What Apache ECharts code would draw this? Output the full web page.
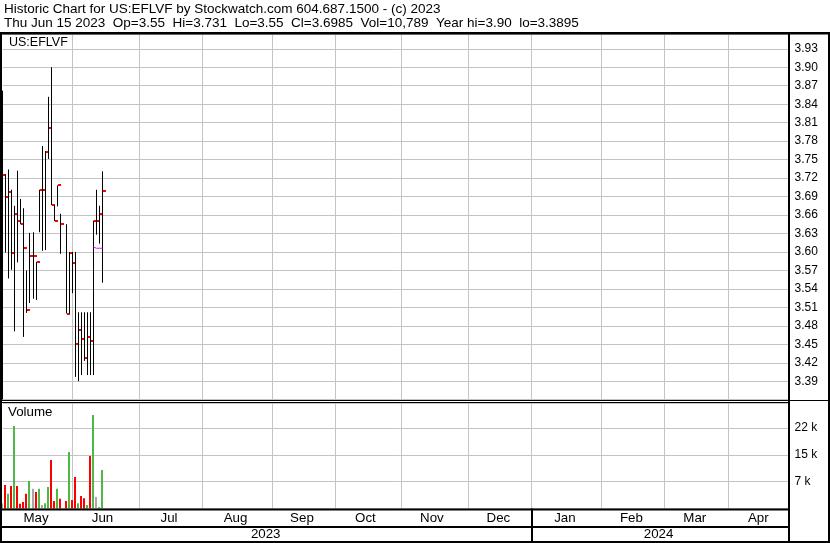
<!DOCTYPE html>
<html><head><meta charset="utf-8">
<script src="https://cdn.jsdelivr.net/npm/echarts@6/dist/echarts.min.js"></script>
<style>html,body{margin:0;padding:0;background:#fff}#c{width:830px;height:543px}</style>
</head><body><div id="c"></div>
<script>
// ---------------- data ----------------
const dates = ['2023-05-01','2023-05-02','2023-05-03','2023-05-04','2023-05-05',
  '2023-05-08','2023-05-09','2023-05-10','2023-05-11','2023-05-12',
  '2023-05-15','2023-05-16','2023-05-17','2023-05-18','2023-05-19',
  '2023-05-22','2023-05-23','2023-05-24','2023-05-25','2023-05-26',
  '2023-05-30','2023-05-31','2023-06-01','2023-06-02',
  '2023-06-05','2023-06-06','2023-06-07','2023-06-08','2023-06-09',
  '2023-06-12','2023-06-13','2023-06-14','2023-06-15'];
const highs = [3.862,3.726,3.734,3.701,3.675, 3.732,3.686,3.671,3.570,3.631,
  3.632,3.584,3.701,3.772,3.764, 3.852,3.900,3.676,3.708,3.662,
  3.645,3.600,3.600,3.600, 3.502,3.502,3.502,3.502,3.502, 3.651,3.701,3.675,3.731];
const lows = [3.360,3.599,3.557,3.571,3.471, 3.583,3.645,3.462,3.501,3.517,
  3.524,3.522,3.632,3.602,3.603, 3.751,3.676,3.650,3.674,3.597,
  3.500,3.500,3.533,3.397, 3.390,3.400,3.423,3.400,3.400, 3.400,3.628,3.6135,3.550];
const closes = [3.725,3.689,3.698,3.599,3.661, 3.650,3.645,3.606,3.505,3.594,
  3.594,3.583,3.700,3.700,3.763, 3.801,3.676,3.650,3.708,3.646,
  3.500,3.599,3.582,3.450, 3.474,3.459,3.427,3.462,3.455, 3.650,3.650,3.662,3.6985];
const volumes = [1500,6600,4100,6300,23100, 6300,1300,1800,4100,7700,
  5500,4600,5500,1000,1500, 6000,13600,2100,5500,2700,
  2100,15800,2400,8800, 1500,3500,2900,1000,14700, 26200,3200,400,10789];
const volDir = ['flat','down','up','down','up', 'down','down','down','down','up',
  'flat','down','up','flat','up', 'up','down','down','up','down',
  'down','up','down','down', 'up','down','down','up','down', 'up','flat','up','up'];
const maDates = ['2023-06-12','2023-06-13','2023-06-14','2023-06-15'];
const maValues = [3.608,3.606,3.606,3.606];
const monthNames = ['Jan','Feb','Mar','Apr','May','Jun','Jul','Aug','Sep','Oct','Nov','Dec'];
const axisStart = '2023-05-01', axisEnd = '2024-04-29';
const priceMin = 3.36, priceMax = 3.9532, priceStep = 0.03;
const volMin = 0, volMax = 29550, volStep = 7500;
const headerLine1 = 'Historic Chart for US:EFLVF by Stockwatch.com 604.687.1500 - (c) 2023';
const headerLine2 = 'Thu Jun 15 2023  Op=3.55  Hi=3.731  Lo=3.55  Cl=3.6985  Vol=10,789  Year hi=3.90  lo=3.3895';
const symbolLabel = 'US:EFLVF';
const volumeLabel = 'Volume';

// ---------------- axis categories (every weekday) ----------------
const cats = [];
for (let d = new Date(axisStart + 'T00:00:00Z'); d <= new Date(axisEnd + 'T00:00:00Z'); d.setUTCDate(d.getUTCDate() + 1)) {
  const w = d.getUTCDay();
  if (w !== 0 && w !== 6) cats.push(d.toISOString().slice(0, 10));
}
const monthGroups = {}, yearGroups = {};
cats.forEach((c, i) => {
  (monthGroups[c.slice(0, 7)] = monthGroups[c.slice(0, 7)] || []).push(i);
  (yearGroups[c.slice(0, 4)] = yearGroups[c.slice(0, 4)] || []).push(i);
});
const monthStart = new Set(), monthMid = new Set(), yearStart = new Set(), yearMid = new Set();
Object.values(monthGroups).forEach(g => { if (g[0] > 0) monthStart.add(g[0]); monthMid.add(Math.floor((g[0] + g[g.length - 1]) / 2)); });
Object.values(yearGroups).forEach(g => { if (g[0] > 0) yearStart.add(g[0]); yearMid.add(Math.floor((g[0] + g[g.length - 1]) / 2)); });

const FONT = "'Liberation Sans', Arial, sans-serif";
const GRIDC = '#c4c4c4';
const volColors = { up: '#4cb848', down: '#ff0000', flat: '#a8a8a8' };

const ohlcData = dates.map((d, k) => [d, highs[k], lows[k], closes[k]]);
const volData = dates.map((d, k) => [d, volumes[k]]);
const maData = maDates.map((d, k) => [d, maValues[k]]);

const chart = echarts.init(document.getElementById('c'), null, { renderer: 'canvas' });

const L = 2.8, R = 830 - 788.5;
const PT = 34.5, PB = 399.7, VT = 403, VB = 508.5;

function splitX(idx) { return monthStart.has(idx); }

const option = {
  animation: false,
  backgroundColor: '#fff',
  textStyle: { fontFamily: FONT },
  grid: [
    { left: L, right: R, top: PT, height: PB - PT },
    { left: L, right: R, top: VT, height: VB - VT }
  ],
  xAxis: [
    { type: 'category', gridIndex: 0, data: cats, boundaryGap: false,
      axisLine: { show: false }, axisTick: { show: false }, axisLabel: { show: false },
      splitLine: { show: true, interval: splitX, lineStyle: { color: GRIDC, width: 1 } } },
    { type: 'category', gridIndex: 1, data: cats, boundaryGap: false,
      axisLine: { show: false },
      axisTick: { show: true, interval: (i) => yearStart.has(i), length: 34, lineStyle: { color: '#000', width: 2 } },
      axisLabel: { show: true, interval: (i) => monthMid.has(i), margin: 3,
        formatter: (v) => monthNames[parseInt(v.slice(5, 7), 10) - 1],
        fontFamily: FONT, fontSize: 13.33, color: '#000' },
      splitLine: { show: true, interval: splitX, lineStyle: { color: GRIDC, width: 1 } } },
    { type: 'category', gridIndex: 1, data: cats, boundaryGap: false, position: 'bottom', offset: 17,
      axisLine: { show: false }, axisTick: { show: false },
      axisLabel: { show: true, interval: (i) => yearMid.has(i), margin: 2,
        formatter: (v) => v.slice(0, 4), fontFamily: FONT, fontSize: 13.33, color: '#000' },
      splitLine: { show: false } }
  ],
  yAxis: [
    { type: 'value', gridIndex: 0, position: 'right', min: priceMin, max: priceMax, interval: priceStep,
      axisLine: { show: false }, axisTick: { show: false },
      axisLabel: { showMinLabel: false, showMaxLabel: false, margin: 6, fontFamily: FONT, fontSize: 12, color: '#000',
        formatter: (v) => v.toFixed(2) },
      splitLine: { show: true, lineStyle: { color: GRIDC, width: 1 } } },
    { type: 'value', gridIndex: 1, position: 'right', min: volMin, max: volMax, interval: volStep,
      axisLine: { show: false }, axisTick: { show: false },
      axisLabel: { showMinLabel: false, showMaxLabel: false, margin: 6, fontFamily: FONT, fontSize: 12, color: '#000',
        formatter: (v) => Math.floor(v / 1000) + ' k' },
      splitLine: { show: true, lineStyle: { color: GRIDC, width: 1 } } }
  ],
  series: [
    { type: 'custom', xAxisIndex: 0, yAxisIndex: 0, clip: true, data: ohlcData,
      encode: { x: 0, y: [1, 2, 3] },
      renderItem: function (params, api) {
        const i = api.value(0);
        const top = api.coord([i, api.value(1)]);
        const bot = api.coord([i, api.value(2)]);
        const cl = api.coord([i, api.value(3)]);
        const x = Math.floor(top[0]) + 0.5;
        return { type: 'group', children: [
          { type: 'line', shape: { x1: x, y1: top[1], x2: x, y2: bot[1] }, style: { stroke: '#000', lineWidth: 1 } },
          { type: 'rect', shape: { x: x + 0.5, y: Math.round(cl[1]) - 1, width: 3, height: 2 }, style: { fill: '#ff0000' } }
        ] };
      } },
    { type: 'line', xAxisIndex: 0, yAxisIndex: 0, data: maData, symbol: 'none',
      lineStyle: { color: '#ff00ff', width: 1 }, z: 3 },
    { type: 'custom', xAxisIndex: 1, yAxisIndex: 1, data: volData, encode: { x: 0, y: 1 },
      renderItem: function (params, api) {
        const i = api.value(0);
        const p = api.coord([i, api.value(1)]);
        const b = api.coord([i, 0]);
        const x = Math.floor(p[0]);
        return { type: 'rect', shape: { x: x - 1, y: p[1], width: 2, height: b[1] - p[1] },
          style: { fill: volColors[volDir[params.dataIndex]] } };
      } }
  ],
  graphic: [
    { type: 'text', left: 4, top: 2, style: { text: headerLine1, font: '13.5px ' + FONT, fill: '#000' } },
    { type: 'text', left: 4, top: 16, style: { text: headerLine2, font: '13.5px ' + FONT, fill: '#000' } },
    { type: 'text', left: 9, top: 36, style: { text: symbolLabel, font: '12.5px ' + FONT, fill: '#000' } },
    { type: 'text', left: 8, top: 406, style: { text: volumeLabel, font: '13.33px ' + FONT, fill: '#000' } },
    // frame
    { type: 'rect', shape: { x: 0, y: 32, width: 830, height: 2.5 }, style: { fill: '#000' }, z: 10 },
    { type: 'rect', shape: { x: 0, y: 32, width: 2, height: 511 }, style: { fill: '#000' }, z: 10 },
    { type: 'rect', shape: { x: 788, y: 32, width: 2, height: 511 }, style: { fill: '#000' }, z: 10 },
    { type: 'rect', shape: { x: 828, y: 32, width: 2, height: 511 }, style: { fill: '#000' }, z: 10 },
    { type: 'rect', shape: { x: 0, y: 400, width: 788, height: 1 }, style: { fill: '#000' }, z: 10 },
    { type: 'rect', shape: { x: 0, y: 402, width: 788, height: 1 }, style: { fill: '#000' }, z: 10 },
    { type: 'rect', shape: { x: 790, y: 400, width: 38, height: 1 }, style: { fill: '#000' }, z: 10 },
    { type: 'rect', shape: { x: 0, y: 508.5, width: 790, height: 2 }, style: { fill: '#000' }, z: 10 },
    { type: 'rect', shape: { x: 0, y: 526, width: 790, height: 2 }, style: { fill: '#000' }, z: 10 },
    { type: 'rect', shape: { x: 0, y: 541, width: 830, height: 2 }, style: { fill: '#000' }, z: 10 }
  ]
};
chart.setOption(option);
</script></body></html>
